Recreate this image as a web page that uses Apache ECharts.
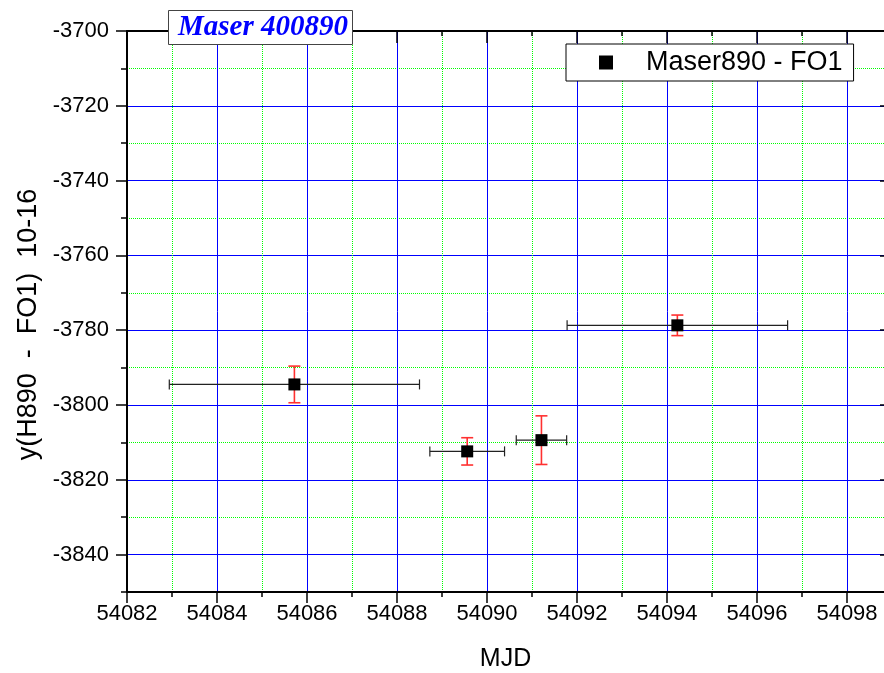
<!DOCTYPE html>
<html lang="en">
<head>
    <meta charset="UTF-8">
    <title>Maser 400890</title>
    <style>
        html, body { margin: 0; padding: 0; background: #fff; }
        #container { width: 884px; height: 673px; }
    </style>
    <script src="https://cdn.jsdelivr.net/npm/echarts@6/dist/echarts.min.js"></script>
</head>
<body>
    <div id="container"></div>
    <script>
        // values (MJD, y in 10-16, and error half-widths)
        var mjd = [54085.72, 54089.56, 54091.21, 54094.23];
        var yVal = [-3794.5, -3812.4, -3809.4, -3778.7];
        var mjdErr = [2.78, 0.83, 0.56, 2.45];
        var yErr = [4.9, 3.65, 6.5, 2.75];

        // y tick labels (every 20)
        var yMajorTicks = [-3840, -3820, -3800, -3780, -3760, -3740, -3720, -3700];

        // x axis runs a bit past the right edge of the picture (cut off near 54098.8)
        var xMin = 54082, xMax = 54100;
        var yMin = -3850, yMax = -3700;

        var chart = echarts.init(document.getElementById('container'));

        var points = mjd.map(function (x, i) { return [x, yVal[i]]; });
        var errData = mjd.map(function (x, i) { return [x, yVal[i], mjdErr[i], yErr[i]]; });

        function renderErr(params, api) {
            var x = api.value(0), y = api.value(1), xe = api.value(2), ye = api.value(3);
            var l = api.coord([x - xe, y]), r = api.coord([x + xe, y]);
            var t = api.coord([x, y + ye]), b = api.coord([x, y - ye]);
            var xs = { stroke: '#222', lineWidth: 1.2 };
            var ys = { stroke: '#ff3030', lineWidth: 1.6 };
            return {
                type: 'group',
                children: [
                    { type: 'line', shape: { x1: l[0], y1: l[1], x2: r[0], y2: r[1] }, style: xs },
                    { type: 'line', shape: { x1: l[0], y1: l[1] - 5, x2: l[0], y2: l[1] + 5 }, style: xs },
                    { type: 'line', shape: { x1: r[0], y1: r[1] - 5, x2: r[0], y2: r[1] + 5 }, style: xs },
                    { type: 'line', shape: { x1: t[0], y1: t[1], x2: b[0], y2: b[1] }, style: ys },
                    { type: 'line', shape: { x1: t[0] - 6, y1: t[1], x2: t[0] + 6, y2: t[1] }, style: ys },
                    { type: 'line', shape: { x1: b[0] - 6, y1: b[1], x2: b[0] + 6, y2: b[1] }, style: ys }
                ]
            };
        }

        var blackLine = { color: '#000', width: 2 };
        var tickStyle = { color: '#000', width: 1.5 };
        var plain = function (v) { return String(v); };

        var option = {
            backgroundColor: '#fff',
            animation: false,
            textStyle: { fontFamily: 'Liberation Sans', color: '#000' },
            title: {
                text: 'Maser 400890',
                left: 168,
                top: 10,
                padding: [3, 5, 3, 10],
                backgroundColor: '#fff',
                borderColor: '#444',
                borderWidth: 1,
                textStyle: {
                    fontFamily: 'Liberation Serif',
                    fontStyle: 'italic',
                    fontWeight: 'bold',
                    fontSize: 29,
                    color: '#0000ff'
                }
            },
            legend: {
                data: [{ name: 'Maser890 - FO1', icon: 'rect' }],
                left: 566,
                top: 44,
                padding: [5, 11, 5, 33],
                itemWidth: 14,
                itemHeight: 14,
                backgroundColor: '#fff',
                borderColor: '#000',
                borderWidth: 1,
                textStyle: { fontSize: 27, color: '#000', padding: [0, 0, 0, 28] }
            },
            grid: { left: 127, right: -53, top: 31, bottom: 81, outerBoundsMode: 'none' },
            xAxis: [
                {
                    type: 'value', min: xMin, max: xMax, interval: 2, position: 'bottom',
                    name: 'MJD', nameLocation: 'middle', nameGap: 55,
                    // the visible part of the axis ends at the picture edge, so pull the name left
                    nameTextStyle: { fontSize: 25, color: '#000', padding: [0, 53, 0, 0] },
                    axisLine: { lineStyle: blackLine },
                    axisTick: { length: 11, lineStyle: tickStyle },
                    minorTick: { show: true, splitNumber: 2, length: 5, lineStyle: tickStyle },
                    axisLabel: { fontSize: 22, color: '#000', margin: 11, formatter: plain },
                    splitLine: { show: true, lineStyle: { color: '#0000ff', width: 1 } },
                    minorSplitLine: { show: true, lineStyle: { color: '#00ff00', width: 1, type: 'dotted' } }
                },
                {
                    type: 'value', min: xMin, max: xMax, interval: 2, position: 'top',
                    axisLine: { lineStyle: blackLine },
                    axisTick: { inside: true, length: 12, lineStyle: tickStyle },
                    minorTick: { show: true, splitNumber: 2, length: 5, lineStyle: tickStyle },
                    axisLabel: { show: false },
                    splitLine: { show: false }
                }
            ],
            yAxis: [
                {
                    type: 'value', min: yMin, max: yMax, position: 'left',
                    name: 'y(H890  -  FO1)  10-16', nameLocation: 'middle', nameGap: 84,
                    nameTextStyle: { fontSize: 27, color: '#000', padding: [0, 26, 0, 0] },
                    axisLine: { lineStyle: blackLine },
                    axisTick: { customValues: yMajorTicks, length: 11, lineStyle: tickStyle },
                    axisLabel: { customValues: yMajorTicks, fontSize: 22, color: '#000', margin: 18, formatter: plain },
                    splitLine: { show: false }
                },
                {
                    // minor ticks and green dotted lines at the odd tens
                    type: 'value', min: yMin, max: yMax, interval: 10, position: 'left',
                    axisLine: { show: false },
                    axisTick: { length: 6, lineStyle: tickStyle },
                    axisLabel: { show: false },
                    splitLine: { show: true, lineStyle: { color: ['#00ff00', 'rgba(0,0,0,0)'], width: 1, type: 'dotted' } }
                },
                {
                    // blue solid lines at the labelled values
                    type: 'value', min: yMin, max: yMax, interval: 10, position: 'left',
                    axisLine: { show: false },
                    axisTick: { show: false },
                    axisLabel: { show: false },
                    splitLine: { show: true, lineStyle: { color: ['rgba(0,0,0,0)', '#0000ff'], width: 1 } }
                },
                {
                    type: 'value', min: yMin, max: yMax, position: 'right', offset: -53,
                    axisLine: { show: false },
                    axisTick: { customValues: yMajorTicks, inside: true, length: 4, lineStyle: tickStyle },
                    axisLabel: { show: false },
                    splitLine: { show: false }
                }
            ],
            series: [
                {
                    name: 'errors',
                    type: 'custom',
                    xAxisIndex: 0,
                    yAxisIndex: 0,
                    renderItem: renderErr,
                    data: errData,
                    z: 3
                },
                {
                    name: 'Maser890 - FO1',
                    type: 'scatter',
                    xAxisIndex: 0,
                    yAxisIndex: 0,
                    symbol: 'rect',
                    symbolSize: 12,
                    itemStyle: { color: '#000', opacity: 1 },
                    data: points,
                    z: 4
                }
            ]
        };

        chart.setOption(option);
        window.addEventListener('resize', function () { chart.resize(); });
    </script>
</body>
</html>
